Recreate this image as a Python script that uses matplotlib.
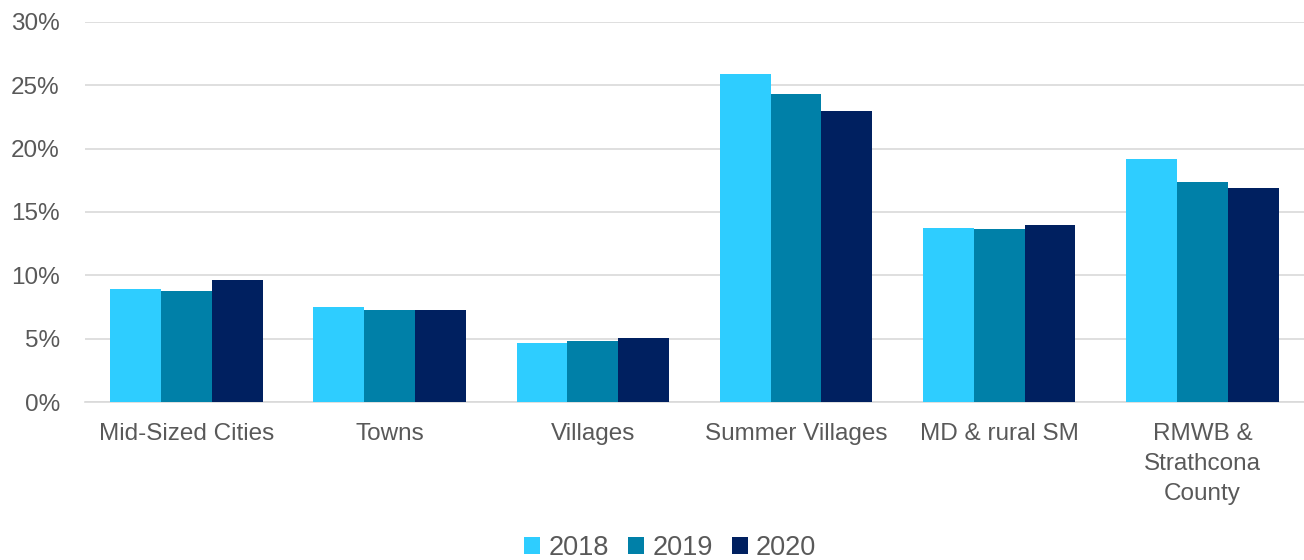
import numpy as np
import matplotlib
matplotlib.use('Agg')
import matplotlib.pyplot as plt

# ===== Data =====
categories = ["Mid-Sized Cities", "Towns", "Villages", "Summer Villages",
              "MD & rural SM", "RMWB &\nStrathcona\nCounty"]
years = ["2018", "2019", "2020"]
v2018 = [8.9, 7.5, 4.7, 25.9, 13.7, 19.2]
v2019 = [8.8, 7.25, 4.8, 24.3, 13.65, 17.35]
v2020 = [9.6, 7.25, 5.05, 23.0, 13.95, 16.9]
colors = ["#2ECDFF", "#0080A8", "#002060"]

plt.rcParams['font.family'] = ['Liberation Sans', 'DejaVu Sans']
txt = "#595959"

fig = plt.figure(figsize=(13.04, 5.6), dpi=100)
ax = fig.add_axes([0.065, 0.282, 0.935, 0.679])

x = np.arange(len(categories)); w = 0.25
for i, (vals, yr) in enumerate(zip([v2018, v2019, v2020], years)):
    ax.bar(x + (i - 1) * w, vals, width=w, color=colors[i], label=yr, zorder=3)

ax.set_ylim(0, 30); ax.set_xlim(-0.5, len(categories) - 0.5)
ax.set_yticks(np.arange(0, 31, 5))
ax.set_yticklabels([f"{t}%" for t in range(0, 31, 5)])
ax.yaxis.grid(True, color="#D9D9D9", linewidth=1.2, zorder=0)
ax.set_xticks(x); ax.set_xticklabels(categories, va='top', linespacing=1.48)
ax.tick_params(axis='both', length=0, labelsize=17.5, labelcolor=txt)
ax.tick_params(axis='x', pad=15); ax.tick_params(axis='y', pad=18)
for s in ['top', 'right', 'left']: ax.spines[s].set_visible(False)
ax.spines['bottom'].set_color("#D9D9D9"); ax.spines['bottom'].set_linewidth(1.2)

leg = fig.legend(loc='center', bbox_to_anchor=(0.514, 0.022), ncol=3, frameon=False,
                 fontsize=19.5, handlelength=0.6, handleheight=0.6, handletextpad=0.3,
                 columnspacing=0.7, labelcolor=txt)

fig.savefig("out.png", dpi=100)
